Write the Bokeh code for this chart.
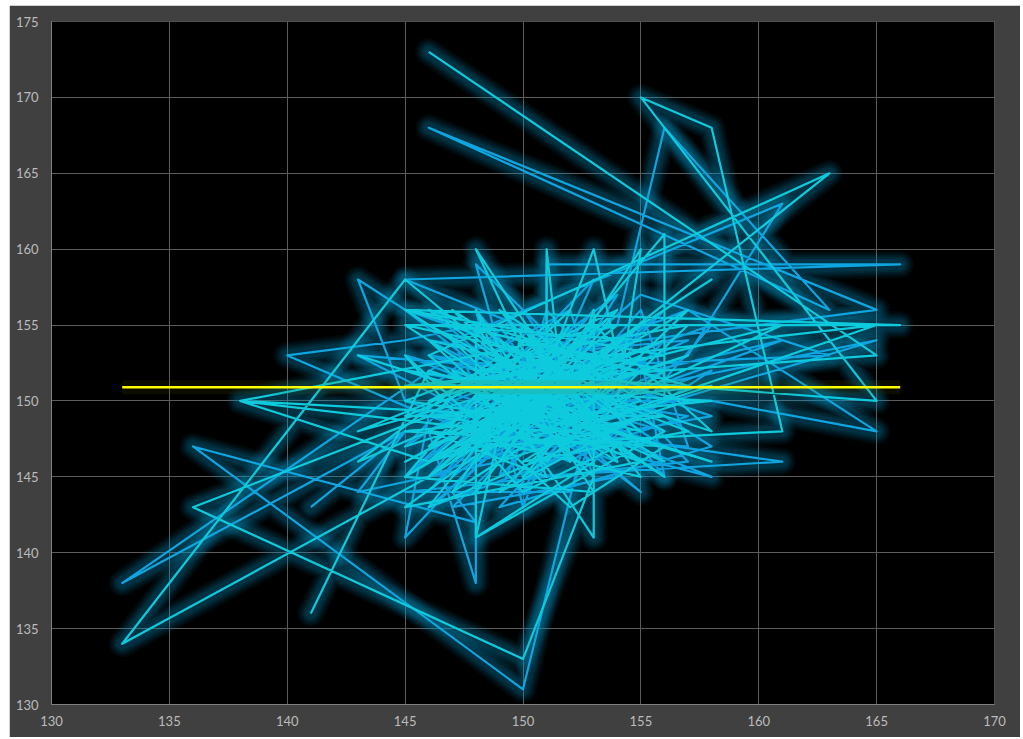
from bokeh.plotting import figure
from bokeh.models import Range1d, FixedTicker, ColumnDataSource
from bokeh.embed import file_html
from bokeh.resources import INLINE

x_ticks = [130, 135, 140, 145, 150, 155, 160, 165, 170]
y_ticks = [130, 135, 140, 145, 150, 155, 160, 165, 170, 175]

mean_x = [133, 166]
mean_y = [150.9, 150.9]

blue_points = [
 (141,143),(145,148),(133,138),(147,153),(153,148),(150,155),(145,147),(149,151),(155,149),(148,146),
 (152,154),(154,155),(156,168),(163,156),(146,168),(165,156),(150,153),(157,154),(147,147),(153,153),
 (145,158),(166,159),(151,159),(151,153),(146,146),(154,150),(148,159),(150,148),(156,152),(149,155),
 (152,148),(165,154),(149,149),(155,157),(163,153),(148,152),(153,145),(152,149),(161,154),(150,150),
 (158,150),(165,148),(157,156),(147,150),(154,146),(152,156),(146,151),(152,148),(161,146),(150,145),
 (147,154),(161,163),(157,153),(151,147),(145,150),(143,158),(148,153),(149,147),(155,152),(146,154),
 (151,150),(156,147),(148,155),(145,154),(140,153),(146,149),(152,152),(147,144),(148,142),(136,147),
 (150,131),(153,150),(148,145),(154,151),(150,153),(149,146),(143,144),(145,148),(151,149),(155,156),
 (157,147),(148,148),(146,149),(145,141),(148,146),(154,154),(148,147),(148,138),(146,148),(152,153),
 (158,147),(149,143),(155,153),(156,145),(155,147),(150,147),(154,157),(147,149),(152,146),(158,152),
 (146,145),(151,154),(156,150),(149,144),(153,158),(148,150),(155,146),(150,151),(145,152),(157,149),
 (151,146),(154,153),(147,145),(153,156),(149,148),(155,151),(146,153),(152,150),(150,144),(156,154),
 (148,149),(143,153),(151,152),(154,147),(150,156),(147,152),(153,146),(158,155),(149,150),(145,145),
 (152,155),(146,144),(153,155),(150,143),(148,156),(154,145),(147,143),(155,155),(152,144),(145,144),
 (157,146),(151,156),(149,145),(156,156),(146,143),(153,147),(158,145),(145,153),(156,148),(146,156),
 (155,144),(145,156),(158,149),(147,146),
]

cyan_points = [
 (146,173),(165,153),(147,151),(155,148),(150,154),(145,145),(153,153),(158,158),(152,152),(148,146),
 (155,155),(149,148),(156,161),(156,150),(150,147),(165,155),(148,152),(165,150),(155,170),(158,168),
 (161,148),(148,147),(153,155),(158,148),(150,152),(146,150),(154,156),(146,145),(133,134),(145,158),
 (152,149),(145,156),(166,155),(145,155),(149,151),(154,146),(148,160),(151,150),(157,153),(146,147),
 (152,156),(150,148),(146,153),(163,165),(150,149),(154,149),(147,156),(153,147),(149,154),(156,148),
 (148,141),(153,146),(150,155),(148,141),(148,155),(152,146),(151,160),(151,151),(145,146),(154,153),
 (153,160),(150,148),(153,141),(153,156),(151,147),(146,154),(157,150),(149,146),(155,160),(154,150),
 (161,155),(148,150),(155,146),(145,143),(153,152),(146,145),(154,155),(148,153),(138,150),(146,146),
 (149,148),(138,150),(150,149),(155,153),(146,147),(151,153),(143,148),(150,151),(145,152),(158,146),
 (150,150),(156,146),(149,153),(143,146),(152,152),(147,148),(155,145),(150,155),(153,148),(143,153),
 (151,149),(145,149),(153,154),(148,144),(154,156),(147,146),(152,151),(157,148),(150,146),(155,151),
 (148,154),(145,155),(152,148),(158,151),(146,149),(151,155),(155,147),(149,149),(145,147),(153,151),
 (147,155),(156,152),(150,145),(154,152),(148,148),(152,154),(146,146),(155,150),(149,156),(153,149),
 (147,152),(151,146),(157,155),(150,153),(145,150),(154,148),(149,147),(152,150),(146,155),(155,154),
 (148,151),(150,149),(156,149),(147,147),(153,150),(151,152),(145,151),(154,151),(147,144),(152,155),
 (146,143),(155,149),(149,144),(157,156),(145,145),(153,144),(148,156),(151,145),(146,148),(154,147),
 (150,144),(145,153),(152,143),(156,147),(145,148),(158,150),(146,151),(156,153),(145,156),(157,151),
 (146,156),(156,145),(147,154),(151,148),(146,149),(136,143),(150,133),(153,145),(151,148),(149,150),
 (156,154),(150,150),(146,152),(141,136),
]

blue_x, blue_y = zip(*blue_points)
cyan_x, cyan_y = zip(*cyan_points)

p = figure(width=1011, height=732, output_backend="svg", toolbar_location=None,
           x_range=Range1d(130, 170), y_range=Range1d(130, 175),
           background_fill_color="#000000", border_fill_color="#404040",
           min_border_left=42, min_border_right=26, min_border_top=16, min_border_bottom=33,
           margin=(5, 3, 2, 9))
p.outline_line_color = None

for ax, ticks in ((p.xaxis[0], x_ticks), (p.yaxis[0], y_ticks)):
    ax.ticker = FixedTicker(ticks=ticks)
    ax.major_tick_line_color = None
    ax.minor_tick_line_color = None
    ax.major_tick_out = 0
    ax.major_tick_in = 0
    ax.axis_line_color = "#808080"
    ax.axis_line_width = 1
    ax.major_label_text_color = "#bcbcbc"
    ax.major_label_text_font = "Lato"
    ax.major_label_text_font_size = "13px"
p.xaxis[0].major_label_standoff = 11
p.yaxis[0].major_label_standoff = 13
p.xgrid.ticker = FixedTicker(ticks=x_ticks)
p.ygrid.ticker = FixedTicker(ticks=y_ticks)
p.grid.grid_line_color = "#5c5c5c"
p.grid.grid_line_width = 1

glow_layers = [(27, 0.05), (23, 0.07), (19, 0.09), (15, 0.11), (11, 0.10)]

blue_src = ColumnDataSource(dict(x=list(blue_x), y=list(blue_y)))
cyan_src = ColumnDataSource(dict(x=list(cyan_x), y=list(cyan_y)))

for src in (blue_src, cyan_src):
    for w, a in glow_layers:
        p.line("x", "y", source=src, line_color="#0a94c0", line_width=w, line_alpha=a,
               line_join="round", line_cap="round")

p.line("x", "y", source=blue_src, line_color="#0ea5e0", line_width=2.2, line_join="round")
p.line("x", "y", source=cyan_src, line_color="#0dcbdc", line_width=2.2, line_join="round")

p.line(mean_x, mean_y, line_color="#5f6f00", line_width=14, line_alpha=0.12)
p.line(mean_x, mean_y, line_color="#ffff00", line_width=2.5)

open("out.html", "w").write(file_html(p, INLINE))
